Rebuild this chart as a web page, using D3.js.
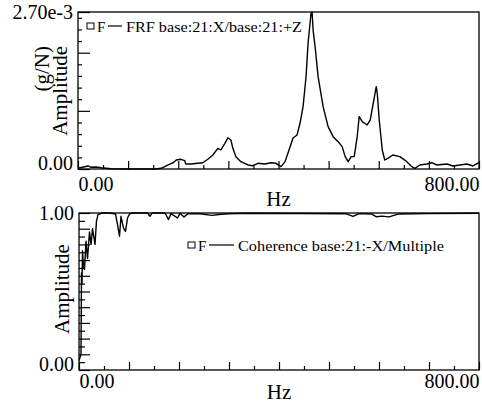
<!DOCTYPE html>
<html>
<head>
<meta charset="utf-8">
<script src="https://cdn.jsdelivr.net/npm/d3@7"></script>
<style>
  body { margin: 0; background: #fff; }
  svg text { font-family: "Liberation Serif", "Times New Roman", serif; fill: #000; }
</style>
</head>
<body>
<div id="chart"></div>
<script>
// FRF curve (top), amplitude in units of 1e-3 g/N
var frfHz  = [0, 20, 26, 36, 46, 66, 100, 154, 166, 180, 190, 196, 205, 213, 215, 225, 239, 249, 259, 269,
              279, 285, 293, 299, 305, 309, 315, 325, 339, 349, 359, 373, 385, 395, 405, 413, 421, 429, 437, 443,
              449, 455, 459, 465, 467, 469, 473, 479, 489, 499, 509, 519, 527, 533, 539, 545, 551, 557, 561, 567,
              577, 583, 589, 595, 597, 601, 607, 612, 618, 628, 642, 656, 666, 672, 682, 696, 706, 716, 736, 748,
              762, 776, 788, 800];
var frfAmp = [0.012, 0.052, 0.029, 0.034, 0.022, 0.005, 0.0, 0.0, 0.012, 0.069, 0.108, 0.155, 0.167, 0.143, 0.086, 0.086, 0.098, 0.108, 0.167, 0.241,
              0.356, 0.327, 0.442, 0.538, 0.499, 0.356, 0.212, 0.126, 0.069, 0.057, 0.098, 0.086, 0.108, 0.098, 0.040, 0.126, 0.327, 0.533, 0.585, 0.791,
              1.072, 1.588, 2.167, 2.683, 2.70, 2.391, 2.104, 1.588, 1.072, 0.728, 0.556, 0.470, 0.384, 0.212, 0.126, 0.212, 0.212, 0.556, 0.900, 0.814,
              0.757, 0.843, 1.130, 1.416, 1.302, 0.843, 0.327, 0.155, 0.184, 0.241, 0.212, 0.126, 0.040, 0.012, 0.069, 0.086, 0.108, 0.069, 0.086, 0.052,
              0.069, 0.086, 0.052, 0.108];

// Coherence curve (bottom)
var cohHz  = [0, 4, 5, 6, 7, 9, 11, 14, 17, 21, 24, 27, 32, 35, 38, 42, 47, 61, 73, 77,
              81, 84, 89, 93, 97, 101, 107, 137, 142, 146, 172, 179, 184, 197, 202, 210, 218, 242, 266, 280,
              298, 340, 440, 535, 548, 560, 585, 595, 606, 620, 640, 700, 800];
var cohVal = [0.06, 0.10, 0.62, 0.55, 0.76, 0.66, 0.64, 0.82, 0.71, 0.88, 0.80, 0.90, 0.80, 0.95, 0.99, 0.995, 1.0, 1.0, 0.994, 0.926,
              0.852, 0.979, 0.904, 0.883, 0.968, 0.994, 1.0, 1.0, 0.979, 1.0, 1.0, 0.958, 0.996, 0.968, 0.998, 0.975, 0.995, 0.995, 0.985, 0.99,
              0.995, 0.998, 0.997, 0.995, 0.978, 0.996, 0.994, 0.976, 0.98, 0.975, 0.994, 0.996, 0.998];

// ticks and labels
var xMinorTicks = [50, 150, 250, 350, 450, 550, 650, 750];
var xMajorTicks = [0, 100, 200, 300, 400, 500, 600, 700, 800];
var xTickLabels = {0: "0.00", 800: "800.00"};
var frfMinorTicks = [0.2, 0.4, 0.6, 0.8, 1.2, 1.4, 1.6, 1.8, 2.2, 2.4, 2.6];
var frfMajorTicks = [0, 1.0, 2.0, 2.7];
var frfTickLabels = {0: "0.00", 2.7: "2.70e-3"};
var cohMinorTicks = [0.05, 0.15, 0.25, 0.35, 0.45, 0.55, 0.65, 0.75, 0.85, 0.95];
var cohMajorTicks = [0, 0.1, 0.2, 0.3, 0.4, 0.5, 0.6, 0.7, 0.8, 0.9, 1.0];
var cohTickLabels = {0: "0.00", 1: "1.00"};

var WIDTH = 482, HEIGHT = 405;

var svg = d3.select("#chart").append("svg")
	.attr("width", WIDTH)
	.attr("height", HEIGHT);

function drawPanel(opt) {
	var x = d3.scaleLinear().domain([0, 800]).range([opt.left, opt.right]);
	var y = d3.scaleLinear().domain(opt.yDomain).range([opt.bottom, opt.top]);
	var g = svg.append("g");

	// x ticks (inside)
	var xa = g.append("g").attr("transform", "translate(0," + opt.bottom + ")");
	xa.append("g").call(d3.axisBottom(x).tickValues(xMajorTicks).tickSize(-8).tickSizeOuter(0)
		.tickPadding(opt.xPad).tickFormat(function(d) { return xTickLabels[d] || ""; }));
	xa.append("g").call(d3.axisBottom(x).tickValues(xMinorTicks).tickSize(-4).tickSizeOuter(0).tickFormat(""));
	xa.selectAll(".domain").remove();
	xa.selectAll("text")
		.style("font-size", "20px")
		.attr("text-anchor", function(d) { return d === 0 ? "start" : "end"; });

	// y ticks (inside)
	var ya = g.append("g").attr("transform", "translate(" + opt.left + ",0)");
	ya.append("g").call(d3.axisLeft(y).tickValues(opt.yMajor).tickSize(-opt.yMajorLen).tickSizeOuter(0)
		.tickPadding(5).tickFormat(function(d) { return opt.yLabels[d] || ""; }));
	ya.append("g").call(d3.axisLeft(y).tickValues(opt.yMinor).tickSize(-opt.yMinorLen).tickSizeOuter(0).tickFormat(""));
	ya.selectAll(".domain").remove();
	ya.selectAll("text")
		.style("font-size", "20px")
		.attr("dy", function(d) { return d === 0 ? "0em" : "0.32em"; });
	g.selectAll(".tick line").attr("stroke", "#000").attr("stroke-width", 1.2);

	// frame
	g.append("rect")
		.attr("x", opt.left).attr("y", opt.top)
		.attr("width", opt.right - opt.left).attr("height", opt.bottom - opt.top)
		.attr("fill", "none").attr("stroke", "#000").attr("stroke-width", 1.3);

	// curve
	var line = d3.line()
		.x(function(d) { return x(d[0]); })
		.y(function(d) { return y(d[1]); });
	g.append("path")
		.datum(d3.zip(opt.xs, opt.ys))
		.attr("d", line)
		.attr("fill", "none")
		.attr("stroke", "#000")
		.attr("stroke-width", 1.4)
		.attr("stroke-linejoin", "round");

	// x title
	g.append("text")
		.attr("x", (opt.left + opt.right) / 2).attr("y", opt.hzY)
		.attr("text-anchor", "middle")
		.style("font-size", "21px")
		.text("Hz");

	// legend
	var lg = opt.legend;
	g.append("rect")
		.attr("x", lg.x).attr("y", lg.y - 3).attr("width", 7).attr("height", 6)
		.attr("fill", "none").attr("stroke", "#000").attr("stroke-width", 1);
	g.append("text")
		.attr("x", lg.x + 10).attr("y", lg.y + 5.5)
		.style("font-size", "15px").text("F");
	g.append("line")
		.attr("x1", lg.x + 21).attr("x2", lg.x + 21 + lg.dash)
		.attr("y1", lg.y).attr("y2", lg.y)
		.attr("stroke", "#000").attr("stroke-width", 1.2);
	g.append("text")
		.attr("x", lg.x + 25 + lg.dash).attr("y", lg.y + 5.5)
		.attr("textLength", lg.width).attr("lengthAdjust", "spacingAndGlyphs")
		.style("font-size", "15px").text(lg.text);
	return g;
}

var top1 = drawPanel({
	left: 78, right: 479, top: 12, bottom: 169,
	yDomain: [0, 2.7], yMajor: frfMajorTicks, yMinor: frfMinorTicks, yLabels: frfTickLabels,
	yMajorLen: 12, yMinorLen: 4, xPad: 8, hzY: 206,
	xs: frfHz, ys: frfAmp,
	legend: {x: 87, y: 26, dash: 14, width: 176, text: "FRF base:21:X/base:21:+Z"}
});
top1.append("text")
	.attr("transform", "translate(67,46) rotate(-90)")
	.attr("text-anchor", "end")
	.style("font-size", "21px")
	.text("Amplitude");
top1.append("text")
	.attr("transform", "translate(49,46) rotate(-90)")
	.attr("text-anchor", "end")
	.style("font-size", "21px")
	.text("(g/N)");

var bot = drawPanel({
	left: 79, right: 479, top: 213, bottom: 370,
	yDomain: [0, 1], yMajor: cohMajorTicks, yMinor: cohMinorTicks, yLabels: cohTickLabels,
	yMajorLen: 11, yMinorLen: 6, xPad: 4, hzY: 399,
	xs: cohHz, ys: cohVal,
	legend: {x: 188, y: 245, dash: 25, width: 206, text: "Coherence base:21:-X/Multiple"}
});
bot.append("text")
	.attr("transform", "translate(69,289) rotate(-90)")
	.attr("text-anchor", "middle")
	.style("font-size", "21px")
	.text("Amplitude");
</script>
</body>
</html>
